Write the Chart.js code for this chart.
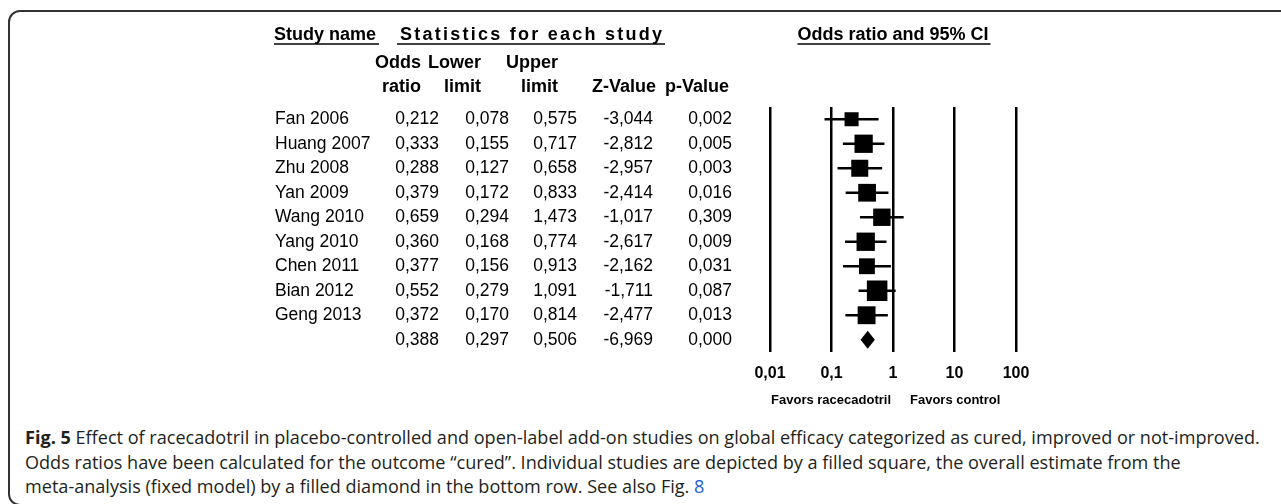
<!DOCTYPE html>
<html>
<head>
<meta charset="utf-8">
<script src="https://cdn.jsdelivr.net/npm/chart.js@4.4.0/dist/chart.umd.min.js"></script>
<style>
  html, body { margin: 0; padding: 0; background: #fff; }
  body { width: 1281px; height: 504px; position: relative; overflow: hidden; }
  .frame {
    position: absolute; left: 8px; top: 10px; width: 1320px; height: 492px;
    border: 2px solid #333; border-radius: 12px;
  }
  #wrap { position: absolute; left: 0; top: 0; width: 1281px; height: 420px; }
  .caption {
    position: absolute; left: 25px; top: 425px;
    font-family: "Open Sans", "Noto Sans", sans-serif; font-size: 16px;
    line-height: 24.5px; color: #231f20; white-space: nowrap;
  }
  .caption div { width: max-content; }
  .caption b { font-weight: 700; }
  .caption a { color: #1f5fd6; text-decoration: none; }
</style>
</head>
<body>
<div class="frame"></div>
<div id="wrap"><canvas id="forest"></canvas></div>
<div class="caption" id="caption">
  <div id="capFirst"><b>Fig. 5</b> Effect of racecadotril in placebo-controlled and open-label add-on studies on global efficacy categorized as cured, improved or not-improved.</div>
  <div>Odds ratios have been calculated for the outcome “cured”. Individual studies are depicted by a filled square, the overall estimate from the</div>
  <div>meta-analysis (fixed model) by a filled diamond in the bottom row. See also Fig. <a href="#">8</a></div>
</div>
<script>
const studyNames = ["Fan 2006", "Huang 2007", "Zhu 2008", "Yan 2009", "Wang 2010",
                    "Yang 2010", "Chen 2011", "Bian 2012", "Geng 2013"];
const oddsRatio  = [0.212, 0.333, 0.288, 0.379, 0.659, 0.360, 0.377, 0.552, 0.372];
const lowerLimit = [0.078, 0.155, 0.127, 0.172, 0.294, 0.168, 0.156, 0.279, 0.170];
const upperLimit = [0.575, 0.717, 0.658, 0.833, 1.473, 0.774, 0.913, 1.091, 0.814];
const zValue     = [-3.044, -2.812, -2.957, -2.414, -1.017, -2.617, -2.162, -1.711, -2.477];
const pValue     = [0.002, 0.005, 0.003, 0.016, 0.309, 0.009, 0.031, 0.087, 0.013];

// fixed-model pooled estimate, bottom row
const pooledOR = 0.388;
const pooledLower = 0.297;
const pooledUpper = 0.506;
const pooledZ = -6.969;
const pooledP = 0.000;

const tickValues = [0.01, 0.1, 1, 10, 100];
const tickLabels = ["0,01", "0,1", "1", "10", "100"];

const rowLabels = [...studyNames, "Overall"];

const FONT = '"Liberation Sans", Arial, sans-serif';
const fmt = v => v.toFixed(3).replace(".", ",");

// square side follows study weight: narrower CI -> bigger box
const boxSide = i => 28 / Math.log(upperLimit[i] / lowerLimit[i]);

// caption runs the full width of the frame
(function fitCaption() {
  const first = document.getElementById("capFirst");
  const w = first.getBoundingClientRect().width;
  document.getElementById("caption").style.fontSize = (16 * 1235 / w) + "px";
})();

// columns of the statistics table (right edges)
const cols = [
  { head: ["Odds", "ratio"], headRight: 421, right: 439, vals: oddsRatio, pooled: pooledOR },
  { head: ["Lower", "limit"], headRight: 481, right: 509, vals: lowerLimit, pooled: pooledLower },
  { head: ["Upper", "limit"], headRight: 558, right: 577, vals: upperLimit, pooled: pooledUpper },
  { head: ["", "Z-Value"], headRight: 656, right: 653, vals: zValue, pooled: pooledZ },
  { head: ["", "p-Value"], headRight: 729, right: 732, vals: pValue, pooled: pooledP }
];

function underline(ctx, from, to, y) {
  ctx.lineWidth = 1.5;
  ctx.beginPath();
  ctx.moveTo(from, y + 9);
  ctx.lineTo(to, y + 9);
  ctx.stroke();
}

const tablePlugin = {
  id: "forestTable",
  afterDatasetsDraw(chart) {
    const { ctx, scales: { x, y } } = chart;
    ctx.save();
    ctx.fillStyle = "#000";
    ctx.strokeStyle = "#000";
    ctx.textBaseline = "middle";

    // pooled diamond
    const yd = y.getPixelForValue(studyNames.length);
    ctx.beginPath();
    ctx.moveTo(x.getPixelForValue(pooledLower), yd);
    ctx.lineTo(x.getPixelForValue(pooledOR), yd - 9);
    ctx.lineTo(x.getPixelForValue(pooledUpper), yd);
    ctx.lineTo(x.getPixelForValue(pooledOR), yd + 9);
    ctx.closePath();
    ctx.fill();

    // group headers
    ctx.font = "bold 18px " + FONT;
    ctx.textAlign = "left";
    const sw = ctx.measureText("Study name").width;
    ctx.fillText("Study name", 274, 35);
    underline(ctx, 274, 274 + sw + 3, 35);

    // stats header stretched across its columns
    const stats = "Statistics for each study";
    const natural = ctx.measureText(stats).width;
    ctx.letterSpacing = ((262 - natural) / (stats.length - 1)) + "px";
    ctx.fillText(stats, 400, 35);
    ctx.letterSpacing = "0px";
    underline(ctx, 397, 665, 35);

    const title = "Odds ratio and 95% CI";
    const tw = ctx.measureText(title).width;
    const tl = x.getPixelForValue(1) - tw / 2;
    ctx.fillText(title, tl, 35);
    underline(ctx, tl, tl + tw + 2, 35);

    // column headers
    ctx.textAlign = "right";
    cols.forEach(c => {
      ctx.fillText(c.head[0], c.headRight, 63);
      ctx.fillText(c.head[1], c.headRight, 87);
    });

    // rows
    ctx.font = "17.5px " + FONT;
    studyNames.forEach((name, i) => {
      const yy = y.getPixelForValue(i);
      ctx.textAlign = "left";
      ctx.fillText(name, 275, yy);
      ctx.textAlign = "right";
      cols.forEach(c => ctx.fillText(fmt(c.vals[i]), c.right, yy));
    });
    cols.forEach(c => ctx.fillText(fmt(c.pooled), c.right, yd));

    // direction labels under the axis
    const one = x.getPixelForValue(1);
    ctx.font = "bold 13px " + FONT;
    ctx.textAlign = "right";
    ctx.fillText("Favors racecadotril", one - 2, 400);
    ctx.textAlign = "left";
    ctx.fillText("Favors control", one + 17, 400);
    ctx.restore();
  }
};

new Chart(document.getElementById("forest"), {
  data: {
    labels: rowLabels,
    datasets: [
      {
        type: "line",
        data: oddsRatio.map((v, i) => ({ x: v, y: studyNames[i] })),
        showLine: false,
        pointStyle: "rect",
        pointRadius: c => boxSide(c.dataIndex) / Math.SQRT2,
        pointBackgroundColor: "#000",
        pointBorderWidth: 0,
        clip: false
      },
      {
        type: "bar",
        indexAxis: "y",
        data: lowerLimit.map((v, i) => [v, upperLimit[i]]),
        backgroundColor: "#000",
        borderWidth: 0,
        barThickness: 2
      }
    ]
  },
  options: {
    responsive: true,
    maintainAspectRatio: false,
    animation: false,
    events: [],
    layout: { padding: { left: 770, right: 265, top: 107, bottom: 38 } },
    plugins: { legend: { display: false }, tooltip: { enabled: false } },
    scales: {
      x: {
        type: "logarithmic",
        min: 0.01,
        max: 100,
        afterBuildTicks: s => { s.ticks = tickValues.map(v => ({ value: v })); },
        afterFit: s => { s.height = 30; },
        border: { display: false },
        grid: { color: "#000", lineWidth: 2.5, drawTicks: false },
        ticks: {
          padding: 12,
          color: "#000",
          font: { family: FONT, size: 16, weight: "bold" },
          autoSkip: false,
          maxRotation: 0,
          callback: (v, i) => tickLabels[i]
        }
      },
      y: {
        type: "category",
        display: false,
        offset: true
      }
    }
  },
  plugins: [tablePlugin]
});
</script>
</body>
</html>
